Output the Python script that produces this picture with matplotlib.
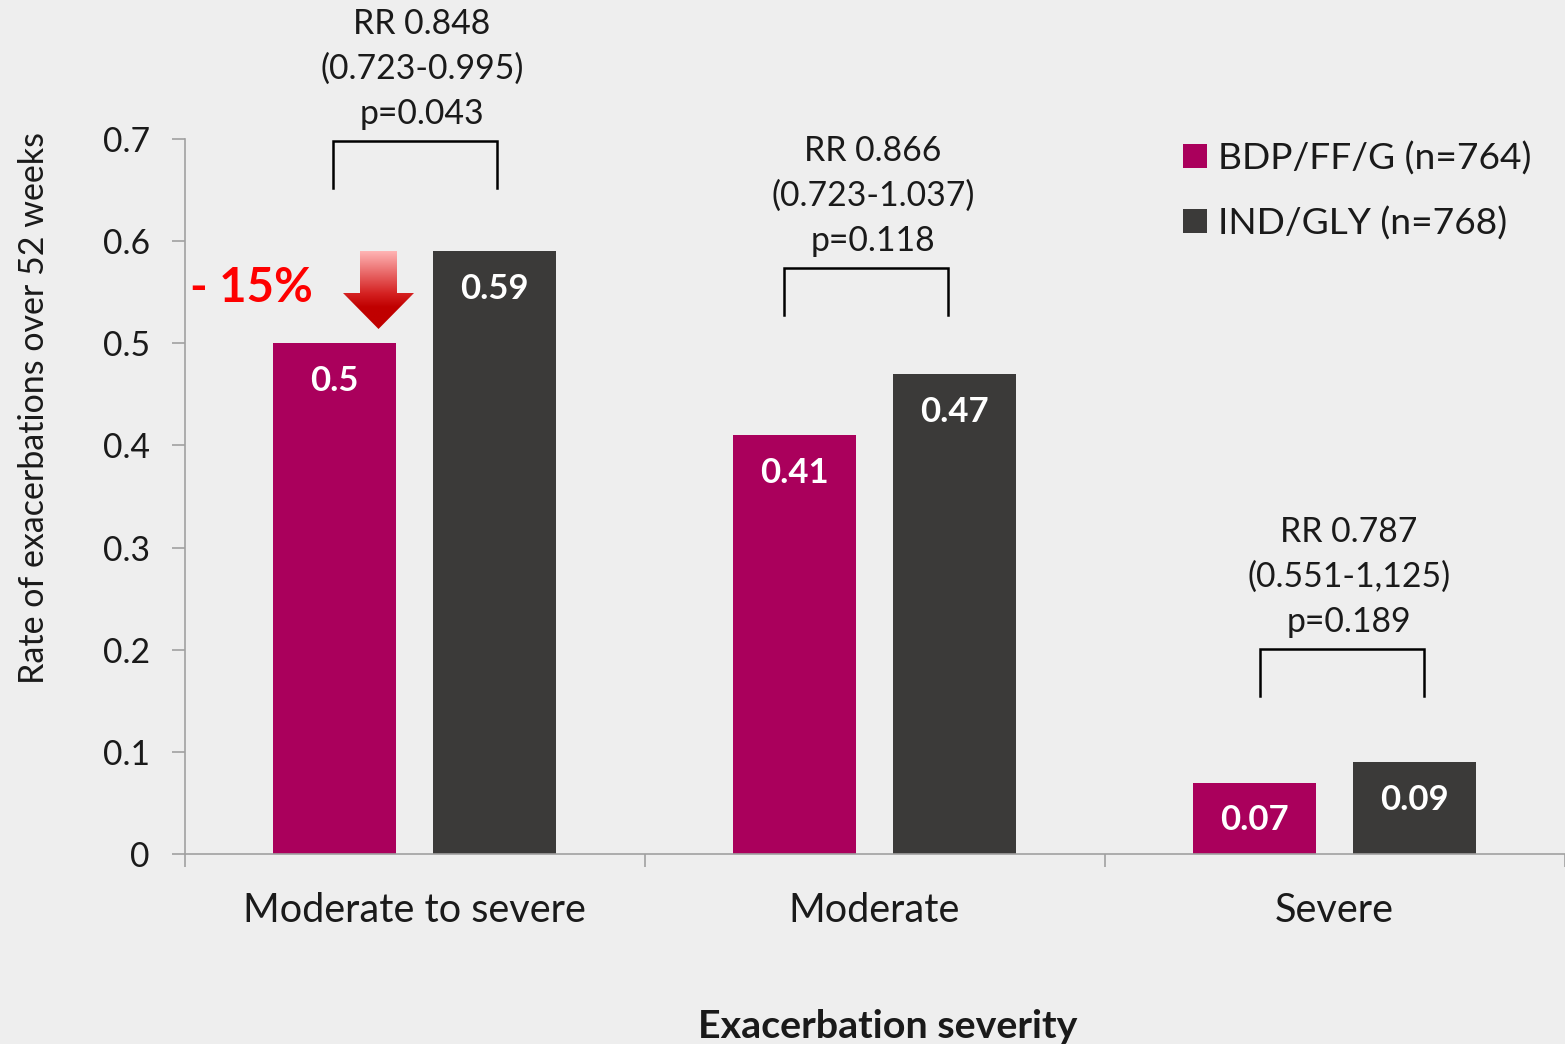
import numpy as np
import matplotlib
matplotlib.use('Agg')
import matplotlib.pyplot as plt
from matplotlib.colors import LinearSegmentedColormap
from matplotlib.patches import Polygon

categories = ['Moderate to severe', 'Moderate', 'Severe']
bdp_values = [0.5, 0.41, 0.07]
ind_values = [0.59, 0.47, 0.09]
bdp_labels = ['0.5', '0.41', '0.07']
ind_labels = ['0.59', '0.47', '0.09']
rr_text = ['RR 0.848\n(0.723-0.995)\np=0.043',
           'RR 0.866\n(0.723-1.037)\np=0.118',
           'RR 0.787\n(0.551-1,125)\np=0.189']
series_names = ['BDP/FF/G (n=764)', 'IND/GLY (n=768)']
yticks = [0, 0.1, 0.2, 0.3, 0.4, 0.5, 0.6, 0.7]
ytick_labels = ['0', '0.1', '0.2', '0.3', '0.4', '0.5', '0.6', '0.7']

W, H = 1565, 1044
BG = '#eeeeee'
MAGENTA = '#aa005c'
DARK = '#3b3a39'
INK = '#1a1a1a'
AXIS = '#a0a0a0'
plt.rcParams['font.family'] = ['Lato', 'DejaVu Sans']

fig = plt.figure(figsize=(W / 100, H / 100), dpi=100, facecolor=BG)
# axes frame in pixels: x 185-1565, y 139 (0.7) to 854 (0)
ax = fig.add_axes([185 / W, 1 - 854 / H, 1380 / W, 715 / H], facecolor=BG)
ax.set_xlim(0, 3)
ax.set_ylim(0, 0.7)
for s in ['top', 'right']:
    ax.spines[s].set_visible(False)
for s in ['left', 'bottom']:
    ax.spines[s].set_color(AXIS)
    ax.spines[s].set_linewidth(1.2)

x = np.arange(3) + 0.5
bar_w = 0.268
off = 0.174
ax.bar(x - off - 0.0005, bdp_values, bar_w, color=MAGENTA)
ax.bar(x + off - 0.0005, ind_values, bar_w, color=DARK)

for i in range(3):
    ax.text(x[i] - off - 0.001, bdp_values[i] - 0.037, bdp_labels[i], color='white', fontsize=25,
            fontweight='bold', ha='center', va='center')
    ax.text(x[i] + off - 0.001, ind_values[i] - 0.037, ind_labels[i], color='white', fontsize=25,
            fontweight='bold', ha='center', va='center')

ax.set_yticks(yticks)
ax.set_yticklabels(ytick_labels, fontsize=24.2, color=INK)
ax.set_xticks([0, 1, 2, 3])
ax.set_xticklabels([])
ax.tick_params(axis='both', length=9.4, width=1.2, color=AXIS, pad=16)

# category names sit between the ticks, placed by hand because they are off-centre
for px, name in zip([414, 874, 1334], categories):
    fig.text(px / W, 1 - 910 / H, name, fontsize=28.5, ha='center', va='center', color=INK)

fig.text(888 / W, 1 - 1027 / H, 'Exacerbation severity', fontsize=28.4, fontweight='bold',
         ha='center', va='center', color=INK)
fig.text(34 / W, 1 - 408 / H, 'Rate of exacerbations over 52 weeks', fontsize=24.5,
         rotation=90, ha='center', va='center', color=INK)

# brackets with RR text above each pair
overlay = fig.add_axes([0, 0, 1, 1], facecolor='none')
overlay.set_xlim(0, W)
overlay.set_ylim(H, 0)
overlay.axis('off')
for left, top, text_x, text_y, txt in zip([333, 784, 1260], [141, 268, 649], [422, 873, 1349],
                                          [69, 196, 577], rr_text):
    overlay.plot([left, left, left + 164, left + 164], [top + 47, top, top, top + 47],
                 color='black', lw=1.8, solid_joinstyle='miter')
    overlay.text(text_x, text_y, txt, fontsize=24.3, ha='center', va='center',
                 linespacing=1.5, color=INK)

# legend
for y, col, name in zip([156, 221], [MAGENTA, DARK], series_names):
    overlay.fill([1183, 1207, 1207, 1183], [y - 12, y - 12, y + 12, y + 12], color=col, lw=0)
    overlay.text(1218, y + 3, name, fontsize=26.7, va='center', ha='left', color=INK)

# gradient arrow and the reduction label
overlay.text(251, 288, '- 15%', fontsize=34, fontweight='bold', color='#fe0000', ha='center', va='center')
grad = LinearSegmentedColormap.from_list('arrow', [(0, '#ffb4b4'), (0.55, '#d42020'), (0.72, '#c00000'), (1, '#c00000')])
im = overlay.imshow(np.linspace(0, 1, 200).reshape(-1, 1), cmap=grad, aspect='auto',
                    extent=(343, 414, 329, 251), zorder=3)
im.set_clip_path(Polygon([(360, 251), (397, 251), (397, 293), (414, 293), (378.5, 329),
                          (343, 293), (360, 293)], closed=True, transform=overlay.transData))
overlay.set_xlim(0, W)
overlay.set_ylim(H, 0)

fig.savefig('out.png', dpi=100, facecolor=BG)
